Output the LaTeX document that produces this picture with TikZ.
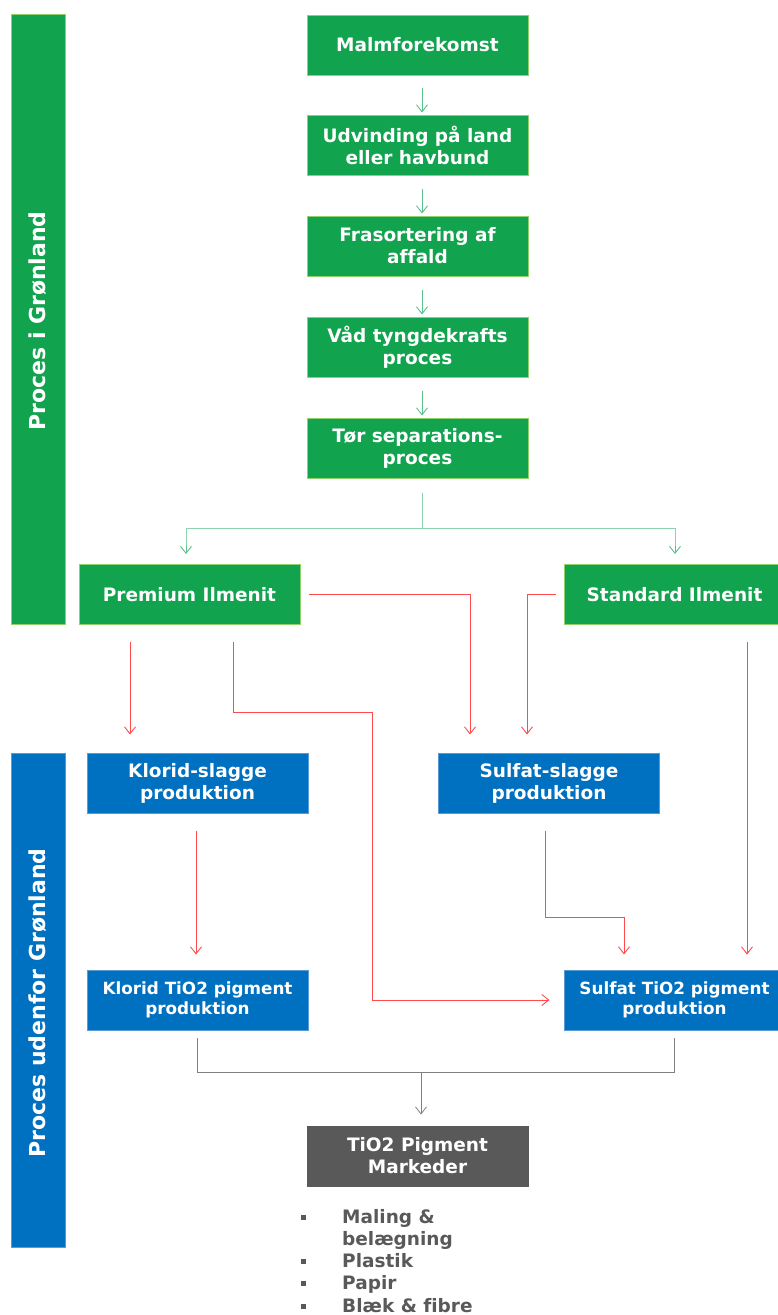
\documentclass[tikz,border=0pt]{standalone}
\usepackage{fontspec}
\setmainfont{DejaVu Sans}[Ligatures=NoCommon]
\usetikzlibrary{arrows.meta}
\definecolor{gfill}{HTML}{12A34F}
\definecolor{gborder}{HTML}{8FD16A}
\definecolor{bfill}{HTML}{0070C0}
\definecolor{bborder}{HTML}{5B9BD5}
\definecolor{dgray}{HTML}{595959}
\definecolor{redl}{HTML}{FF4B4B}
\definecolor{gline}{HTML}{5CC08A}
\definecolor{grayl}{HTML}{808080}
\begin{document}
\begin{tikzpicture}[x=1pt,y=-1pt,
  gbox/.style={draw=gborder, line width=1pt, fill=gfill, text=white,
    font=\bfseries\fontsize{18.5}{22}\selectfont, align=center,
    minimum width=221pt, minimum height=60pt, inner sep=0pt},
  bbox/.style={gbox, fill=bfill, draw=bborder},
  smallbox/.style={bbox, font=\bfseries\fontsize{16.8}{20}\selectfont},
  markbox/.style={gbox, fill=dgray, draw=dgray},
  sidebar/.style={line width=1pt, minimum width=54pt, inner sep=0pt},
  sidetext/.style={rotate=90, text=white, font=\bfseries\fontsize{22}{26}\selectfont, inner sep=0pt},
  tip/.style={-{Straight Barb[length=7pt,width=11pt]}},
  garr/.style={draw=gline, line width=0.9pt, tip},
  gl/.style={draw=gline!70, line width=1pt},
  rarr/.style={draw=redl, line width=0.9pt, tip},
  grl/.style={draw=grayl, line width=0.8pt},
  grarr/.style={grl, tip},
  bullet/.style={fill=dgray, minimum size=5pt, inner sep=0pt},
  listtext/.style={anchor=base west, text=dgray, font=\bfseries\fontsize{18.5}{22}\selectfont, inner sep=0pt}
]
\useasboundingbox (0,0) rectangle (777,1315);

% side bars
\node[sidebar, draw=gborder, fill=gfill, minimum height=610pt] (gbar) at (38,319) {};
\node[sidetext] (gbartext) at (38,321) {Proces i Grønland};
\node[sidebar, draw=bborder, fill=bfill, minimum height=494pt] (bbar) at (38,1000) {};
\node[sidetext] (bbartext) at (38,1003) {Proces udenfor Grønland};

% green chain
\node[gbox] (malm) at (417.5,45) {Malmforekomst};
\node[gbox] (udv) at (417.5,145) {Udvinding på land\\eller havbund};
\node[gbox] (fras) at (417.5,246) {Frasortering af\\affald};
\node[gbox] (vaad) at (417.5,347) {Våd tyngdekrafts\\proces};
\node[gbox] (toer) at (417.5,448) {Tør separations-\\proces};

\draw[garr] ([xshift=4.5pt,yshift=-12pt]malm.south) -- ([xshift=4.5pt,yshift=2pt]udv.north);
\draw[garr] ([xshift=4.5pt,yshift=-13pt]udv.south) -- ([xshift=4.5pt,yshift=2pt]fras.north);
\draw[garr] ([xshift=4.5pt,yshift=-13pt]fras.south) -- ([xshift=4.5pt,yshift=2pt]vaad.north);
\draw[garr] ([xshift=4.5pt,yshift=-13pt]vaad.south) -- ([xshift=4.5pt,yshift=2pt]toer.north);

% ilmenite
\node[gbox] (prem) at (189.5,594.5) {Premium Ilmenit};
\node[gbox] (std) at (674.5,594.5) {Standard Ilmenit};

\coordinate (gsplit) at (422,528);
\draw[gl] ([xshift=4.5pt,yshift=-14pt]toer.south) -- (gsplit);
\draw[gl] (gsplit) -| ([xshift=-3.5pt,yshift=18pt]prem.north);
\draw[gl] (gsplit) -| ([xshift=0.5pt,yshift=18pt]std.north);
\draw[garr] ([xshift=-3.5pt,yshift=18pt]prem.north) -- ([xshift=-3.5pt,yshift=10pt]prem.north);
\draw[garr] ([xshift=0.5pt,yshift=18pt]std.north) -- ([xshift=0.5pt,yshift=10pt]std.north);

% blue boxes
\node[bbox] (kslag) at (197.5,783) {Klorid-slagge\\produktion};
\node[bbox] (sslag) at (549,783) {Sulfat-slagge\\produktion};
\node[smallbox] (ktio) at (197.5,1000) {Klorid TiO2 pigment\\produktion};
\node[smallbox] (stio) at (674.5,1000) {Sulfat TiO2 pigment\\produktion};

% red connectors
\coordinate (bend4) at (372,712);
\coordinate (bend7) at (624,917);
\draw[rarr] ([xshift=8pt]prem.east) -| ([xshift=-79pt,yshift=18pt]sslag.north);
\draw[rarr] ([xshift=-8pt]std.west) -| ([xshift=-22pt,yshift=18pt]sslag.north);
\draw[rarr] ([xshift=-59.5pt,yshift=-17pt]prem.south) -- ([xshift=-67.5pt,yshift=18pt]kslag.north);
\draw[rarr] ([xshift=43.5pt,yshift=-17pt]prem.south) |- (bend4) |- ([xshift=-14pt]stio.west);
\draw[rarr] ([xshift=72.5pt,yshift=-17pt]std.south) -- ([xshift=72.5pt,yshift=15pt]stio.north);
\draw[rarr] ([xshift=-1.5pt,yshift=-17pt]kslag.south) -- ([xshift=-1.5pt,yshift=15pt]ktio.north);
\draw[rarr] ([xshift=-4pt,yshift=-17pt]sslag.south) |- (bend7) -- ([xshift=-50.5pt,yshift=15pt]stio.north);

% market
\node[markbox] (mark) at (417.5,1156) {TiO2 Pigment\\Markeder};
\coordinate (gjoin) at (421,1072);
\draw[grl] ([yshift=-7pt]ktio.south) |- (gjoin) -| ([yshift=-7pt]stio.south);
\draw[grarr] (gjoin) -- ([xshift=3.5pt,yshift=11pt]mark.north);

% list
\node[bullet] (b1) at (303,1217) {};
\node[bullet] (b2) at (303,1261) {};
\node[bullet] (b3) at (303,1283) {};
\node[bullet] (b4) at (303,1306) {};
\node[listtext] (l1) at (342,1223.5) {Maling \&};
\node[listtext] (l1b) at (342,1245.5) {belægning};
\node[listtext] (l2) at (342,1267.5) {Plastik};
\node[listtext] (l3) at (342,1289.5) {Papir};
\node[listtext] (l4) at (342,1312) {Blæk \& fibre};
\end{tikzpicture}
\end{document}
